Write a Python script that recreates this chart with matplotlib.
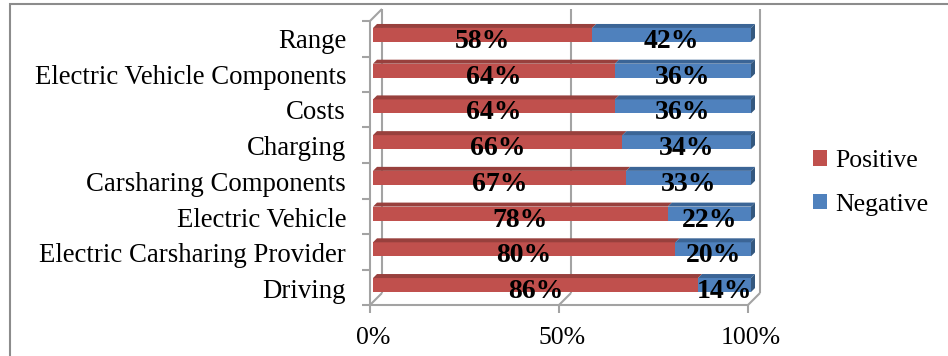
import matplotlib.pyplot as plt
from matplotlib.patches import Polygon, Patch, Rectangle

# 評価カテゴリ（下から上）
categories = ['Driving', 'Electric Carsharing Provider', 'Electric Vehicle',
              'Carsharing Components', 'Charging', 'Costs',
              'Electric Vehicle Components', 'Range']
positive = [86, 80, 78, 67, 66, 64, 64, 58]
negative = [14, 20, 22, 33, 34, 36, 36, 42]
x_ticks = [0, 50, 100]
x_ticklabels = ['0%', '50%', '100%']

# 色
red, red_top = '#C0504D', '#98403D'
blue, blue_top, blue_side = '#4F81BD', '#3B6596', '#34587F'
wall = '#A3A3A3'

plt.rcParams['font.family'] = ['Liberation Serif', 'DejaVu Serif']
fs_cat = 19.3
fs_val = 20
fs_tick = 18.5

W, H = 948, 356
fig = plt.figure(figsize=(W / 100, H / 100), dpi=100)

# 棒の面（ピクセル指定）
left, right, top, bottom = 373, 751, 18, 302
ax = fig.add_axes([left / W, 1 - bottom / H, (right - left) / W, (bottom - top) / H])
x0, x1 = 0, 100
y0, y1 = -0.475, 7.475
ax.set_xlim(x0, x1)
ax.set_ylim(y0, y1)
for s in ax.spines.values():
    s.set_visible(False)

# ピクセル→データ単位
sx = (right - left) / (x1 - x0)
sy = (bottom - top) / (y1 - y0)


def sh(x, y, px, py):
    return x + px / sx, y + py / sy


FRONT = (-3, -3)
BACK = (9, 9)


def line(p, q, **kw):
    ax.plot([p[0], q[0]], [p[1], q[1]], color=wall, lw=1.5, clip_on=False,
            solid_capstyle='butt', zorder=1, **kw)


# 奥の壁のグリッド線
for xv in x_ticks:
    line(sh(xv, y0, *BACK), sh(xv, y1, *BACK))
    # 床の斜め線
    line(sh(xv, y0, *BACK), sh(xv, y0, *FRONT))
    # 目盛り
    p = sh(xv, y0, *FRONT)
    line(p, sh(p[0], p[1], 0, -8))

# 床の手前の辺
line(sh(x0, y0, *FRONT), sh(x1, y0, *FRONT))
# 左の壁
line(sh(x0, y0, *FRONT), sh(x0, y1, *FRONT))
line(sh(x0, y1, *FRONT), sh(x0, y1, *BACK))
for k in range(len(categories) + 1):
    yb = y0 + k * (y1 - y0) / len(categories)
    p = sh(x0, yb, *FRONT)
    line(p, sh(p[0], p[1], -8, 0))

# 棒
ypos = list(range(len(categories)))
bh = 14 / sy
d = 4
ax.barh(ypos, positive, height=bh, color=red, zorder=3)
ax.barh(ypos, negative, left=positive, height=bh, color=blue, zorder=3)

txt_dy = -3.5 / sy  # 文字は棒の中心より少し下
for i in ypos:
    yt = i + bh / 2
    yb = i - bh / 2
    segs = [(0, positive[i], red_top), (positive[i], positive[i] + negative[i], blue_top)]
    for a, b, c in segs:
        ax.add_patch(Polygon([(a, yt), (b, yt), sh(b, yt, d, d), sh(a, yt, d, d)],
                             closed=True, facecolor=c, edgecolor='none',
                             clip_on=False, zorder=3))
    e = positive[i] + negative[i]
    ax.add_patch(Polygon([(e, yb), (e, yt), sh(e, yt, d, d), sh(e, yb, d, d)],
                         closed=True, facecolor=blue_side, edgecolor='none',
                         clip_on=False, zorder=3))
    ax.text(positive[i] / 2, i + txt_dy, f'{positive[i]}%', ha='center',
            va='center_baseline', fontsize=fs_val, fontweight='bold', zorder=5)
    ax.text(positive[i] + negative[i] / 2, i + txt_dy, f'{negative[i]}%', ha='center',
            va='center_baseline', fontsize=fs_val, fontweight='bold', zorder=5)

ax.set_yticks([i + txt_dy for i in ypos])
ax.set_yticklabels(categories, fontsize=fs_cat)
ax.set_xticks(x_ticks)
ax.set_xticklabels(x_ticklabels, fontsize=fs_tick)
ax.tick_params(axis='y', length=0, pad=19.4)
ax.tick_params(axis='x', length=0, pad=18)

# 凡例
handles = [Patch(facecolor=red, edgecolor='none'), Patch(facecolor=blue, edgecolor='none')]
fig.legend(handles, ['Positive', 'Negative'], loc='center left',
           bbox_to_anchor=(813 / W, 1 - 183 / H), frameon=False, fontsize=fs_tick,
           handlelength=0.55, handleheight=0.55, handletextpad=0.3,
           labelspacing=0.84, borderpad=0, borderaxespad=0)

# 外枠
fig.add_artist(Rectangle((10 / W, -0.5), 2, 1.5 - 3.5 / H, transform=fig.transFigure,
                         fill=False, edgecolor='#8C8C8C', lw=1.5))

fig.savefig('out.png', dpi=100)
